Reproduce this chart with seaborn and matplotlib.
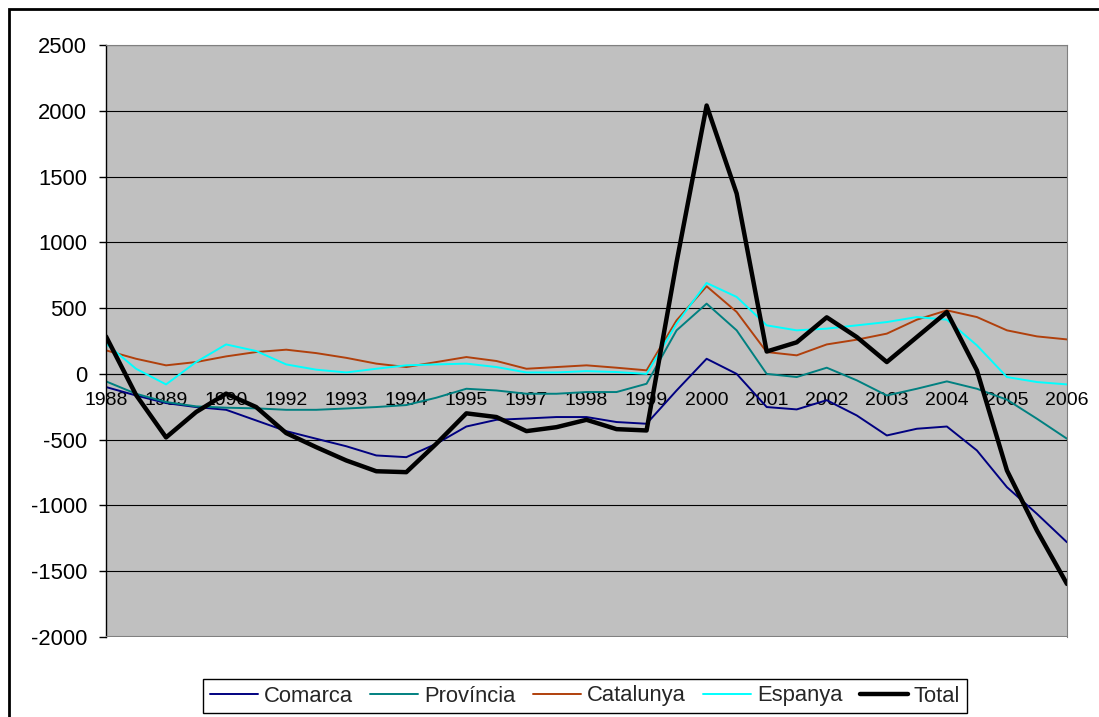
import numpy as np
import pandas as pd
import matplotlib
matplotlib.use("Agg")
import matplotlib.pyplot as plt
import seaborn as sns
from matplotlib.patches import Rectangle

# %% Data (33 points, half a category apart)
years = ["1988", "1989", "1990", "1992", "1993", "1994", "1995", "1997", "1998",
         "1999", "2000", "2001", "2002", "2003", "2004", "2005", "2006"]
step = np.arange(33) / 2

comarca = [-100, -164, -222, -252, -273, -354, -435, -493, -550, -620, -633,
           -531, -400, -349, -339, -328, -328, -366, -379, -126, 115, 0,
           -252, -270, -200, -316, -468, -417, -400, -582, -861, -1064, -1280]
provincia = [-57, -151, -214, -247, -257, -262, -273, -273, -263, -252, -237,
             -181, -113, -126, -151, -151, -138, -138, -75, 331, 534, 331,
             0, -24, 47, -49, -164, -113, -57, -113, -196, -341, -493]
catalunya = [179, 115, 65, 90, 133, 166, 184, 158, 122, 78, 52,
             90, 128, 98, 39, 52, 65, 47, 27, 407, 666, 471,
             166, 141, 224, 260, 306, 412, 483, 432, 331, 285, 262]
espanya = [230, 39, -80, 90, 224, 174, 72, 32, 11, 39, 65,
           72, 78, 52, 11, 11, 21, 14, 0, 382, 691, 585,
           369, 331, 344, 369, 394, 432, 412, 217, -24, -62, -80]
total = [285, -160, -483, -290, -150, -252, -450, -557, -658, -740, -747,
         -531, -300, -328, -435, -405, -349, -420, -430, 850, 2040, 1371,
         170, 240, 430, 280, 90, 280, 470, 27, -734, -1191, -1597]

series = ["Comarca", "Província", "Catalunya", "Espanya", "Total"]
values = [comarca, provincia, catalunya, espanya, total]
colors = ["#000080", "#008080", "#B0400C", "#00FFFF", "#000000"]
widths = [1.4, 1.4, 1.4, 1.4, 3.2]

df = pd.concat([pd.DataFrame({"x": step, "valor": v, "serie": s})
                for s, v in zip(series, values)], ignore_index=True)

# %% Style
sns.set_style("white")
plt.rcParams["font.family"] = ["Liberation Sans", "DejaVu Sans"]
plt.rcParams["axes.unicode_minus"] = False

fig = plt.figure(figsize=(10.99, 7.17), dpi=100)
ax = fig.add_axes([106 / 1099, 1 - 637 / 717, 961 / 1099, 592 / 717])
ax.set_facecolor("#C0C0C0")

for s, c, w in zip(series, colors, widths):
    sns.lineplot(data=df[df["serie"] == s], x="x", y="valor", color=c,
                 linewidth=w, label=s, legend=False, ax=ax)

ax.set_xlim(0, 16)
ax.set_ylim(-2000, 2500)
ax.set_yticks(range(-2000, 2501, 500))
ax.yaxis.grid(True, color="black", linewidth=0.8)
ax.set_axisbelow(True)
ax.set_xlabel("")
ax.set_ylabel("")

# category axis crossing at zero
ax.spines["bottom"].set_position(("data", 0))
ax.spines["bottom"].set_color("black")
ax.spines["bottom"].set_zorder(1.5)
ax.spines["left"].set_color("black")
ax.spines["left"].set_linewidth(1.0)
for side in ["top", "right"]:
    ax.spines[side].set_color("#808080")
ax.axhline(-2000, color="#808080", linewidth=1.5, zorder=3)

ax.set_xticks(range(len(years)))
ax.set_xticklabels(years)
ax.tick_params(axis="x", direction="inout", length=10, width=1, pad=8,
               labelsize=14, colors="black")
ax.tick_params(axis="y", direction="out", length=5, width=1, pad=8.5,
               labelsize=15.8, colors="black", left=True)
for lbl in ax.get_xticklabels():
    lbl.set_zorder(5)

# chart border
fig.patches.append(Rectangle((9 / 1099, -0.05), 1.1, 1 - 9 / 717 + 0.05,
                             transform=fig.transFigure, fill=False,
                             edgecolor="black", linewidth=2))

handles = [l for l in ax.get_lines() if l.get_label() in series]
fig.legend(handles=handles, labels=series, loc="center", ncol=5,
           bbox_to_anchor=(585 / 1099, 1 - 696 / 717), frameon=True,
           fancybox=False, edgecolor="black", framealpha=1,
           handlelength=2.2, handletextpad=0.27, columnspacing=0.78,
           borderpad=0.3, fontsize=15.8)

fig.savefig("out.png", dpi=100)
